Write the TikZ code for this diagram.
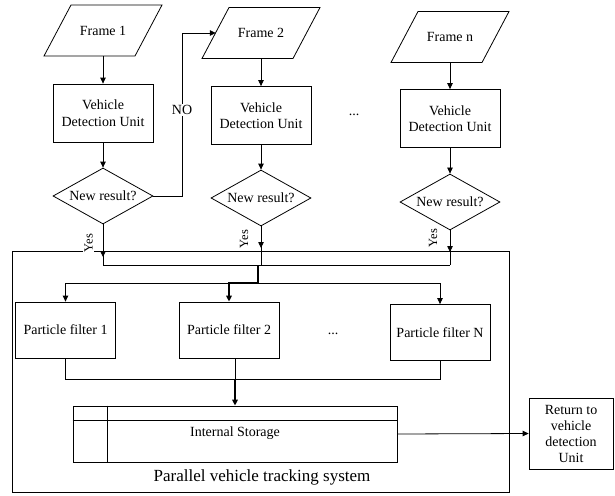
\documentclass[tikz,border=0pt]{standalone}
\usepackage{fontspec}
\setmainfont{Liberation Serif}
\usetikzlibrary{arrows.meta,shapes.geometric}
\begin{document}
\begin{tikzpicture}[x=1pt,y=-1pt,
  font=\fontsize{14}{16.5}\selectfont,
  ln/.style={line width=0.8pt},
  thk/.style={line width=1.6pt},
  arr/.style={ln,-{Triangle[length=6pt,width=5.5pt]}},
  tarr/.style={thk,-{Triangle[length=6pt,width=5.5pt]}},
  box/.style={draw,ln,minimum width=100,minimum height=58,inner sep=0,align=center},
  pfbox/.style={draw,ln,minimum width=100,minimum height=56,inner sep=0,align=center},
  dec/.style={draw,ln,diamond,aspect=1.8,minimum width=100,minimum height=56,inner sep=0},
  frm/.style={minimum width=90,minimum height=51,inner sep=0},
  yeslbl/.style={rotate=90,fill=white,inner sep=1pt,font=\fontsize{12.5}{14}\selectfont}]
\useasboundingbox (0,0) rectangle (615,495);
\newcommand\frameshape[1]{\draw[ln] ([shift={(-32,-25.5)}]#1.center) -- ([shift={(59,-25.5)}]#1.center) -- ([shift={(32,25.5)}]#1.center) -- ([shift={(-59,25.5)}]#1.center) -- cycle;}

% outer system box
\node[draw,ln,minimum width=497,minimum height=241,inner sep=0] (sys) at (260.5,371.5) {};
\node (syslbl) at (262,477) {\fontsize{17}{20}\selectfont Parallel vehicle tracking system};

% frames
\node[frm] (f1) at (103,30.5) {Frame 1};
\node[frm] (f2) at (261,33) {Frame 2};
\node[frm] (fn) at (450,37) {Frame n};
\frameshape{f1}
\frameshape{f2}
\frameshape{fn}

% detection units
\node[box] (v1) at (103,113) {Vehicle\\Detection Unit};
\node[box] (v2) at (261,115.5) {Vehicle\\Detection Unit};
\node[box] (vn) at (450,118.5) {Vehicle\\Detection Unit};
\node (dots1) at (354,115) {...};

% decisions
\node[dec] (d1) at (103,196) {New result?};
\node[dec] (d2) at (261,198) {New result?};
\node[dec] (dn) at (450,202) {New result?};

\draw[arr] (f1) -- (v1);
\draw[arr] (f2) -- (v2);
\draw[arr] (fn) -- (vn);
\draw[arr] (v1) -- (d1);
\draw[arr] (v2) -- (d2);
\draw[arr] (vn) -- (dn);

% NO branch
\coordinate (nocorner) at (182,33);
\draw[arr] (d1.east) -| (nocorner) -- (f2.west);
\node[fill=white,inner sep=1pt] (nolbl) at (182,110) {NO};

% Yes branches
\coordinate (b1) at (103,265);
\coordinate (b2) at (261,265);
\coordinate (bn) at (450,265);
\coordinate (j1) at (258,265);
\draw[ln] (d1.south) -- (b1) -- (bn);
\draw[ln] (d2.south) -- (b2);
\draw[ln] (dn.south) -- (bn);
\draw[arr] (d1.south) -- (103,257);
\draw[arr] (d2.south) -- (261,248);
\draw[arr] (dn.south) -- (450,252);
\node[yeslbl] (y1) at (88.5,243) {Yes};
\node[yeslbl] (y2) at (244,239) {Yes};
\node[yeslbl] (yn) at (433,238) {Yes};

% particle filters
\node[pfbox] (p1) at (65.5,330) {Particle filter 1};
\node[pfbox] (p2) at (229,330) {Particle filter 2};
\node[pfbox] (pn) at (440,332.5) {Particle filter N};
\node (dots2) at (333,334) {...};

\coordinate (j2) at (258,283);
\draw[ln] (p1.north |- j2) -- (pn.north |- j2);
\draw[arr] (p1.north |- j2) -- (p1.north);
\draw[arr] (pn.north |- j2) -- (pn.north);
\draw[tarr] (j1) -- (j2) -- (p2.north |- j2) -- (p2.north);

% storage
\node[draw,ln,minimum width=324,minimum height=56,inner sep=0] (st) at (235,434) {};
\node (stlbl) at (235,433) {Internal Storage};
\draw[ln] (st.north west |- 0,420) -- (st.north east |- 0,420);
\draw[ln] (st.north west -| 107,0) -- (st.south west -| 107,0);

\coordinate (j3) at (235,379);
\draw[ln] (p1.south) -- (p1.south |- j3) -- (pn.south |- j3) -- (pn.south);
\draw[ln] ([xshift=6]p2.south) -- (j3);
\draw[tarr] (j3) -- (st.north);

% return box
\node[draw,ln,minimum width=84,minimum height=71,inner sep=0,align=center,font=\fontsize{14}{16}\selectfont] (ret) at (571,433.5) {Return to\\vehicle\\detection\\Unit};
\draw[arr] (st.east) -- (ret.west);
\end{tikzpicture}
\end{document}
